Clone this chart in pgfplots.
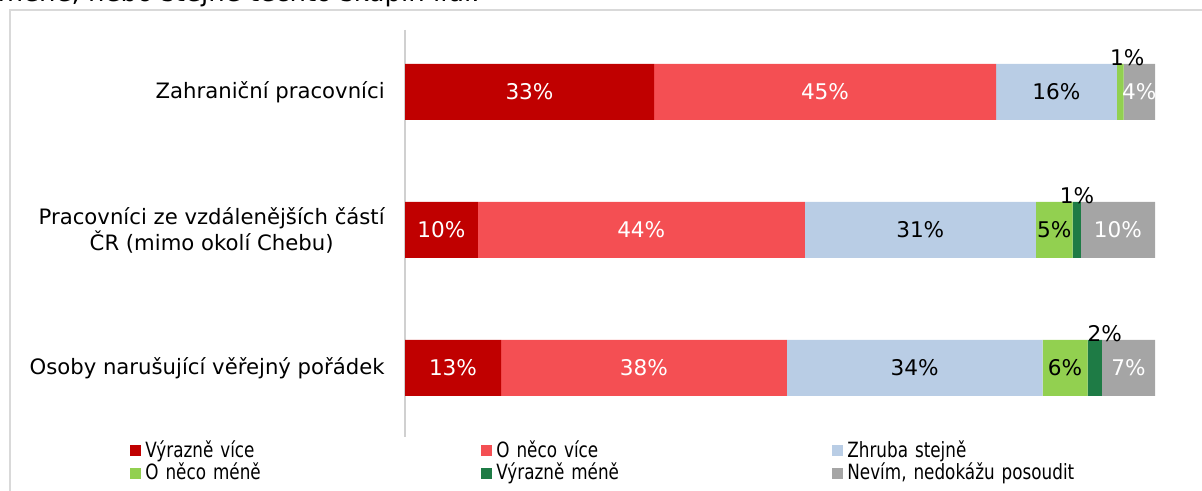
\documentclass[border=0pt]{standalone}
\usepackage{fontspec}
\setmainfont{DejaVu Sans}
\newfontfamily\legfont[FakeStretch=0.8]{DejaVu Sans}
\usepackage{pgfplots}
\pgfplotsset{compat=1.18}
\definecolor{cA}{HTML}{C00000}
\definecolor{cB}{HTML}{F44F53}
\definecolor{cC}{HTML}{B9CDE5}
\definecolor{cD}{HTML}{92D050}
\definecolor{cE}{HTML}{1E7B45}
\definecolor{cF}{HTML}{A5A5A5}
\definecolor{frame}{HTML}{D9D9D9}
\definecolor{axgray}{HTML}{D0D0D0}
\pgfplotsset{mybase/.style={scale only axis, width=375pt, height=203.5pt,
  at={(202.5pt,27pt)}, anchor=south west, xmin=0, xmax=100,
  ymin=-0.449, ymax=2.5, y dir=reverse, clip=false}}
\begin{document}
\begin{tikzpicture}[x=1pt,y=1pt]
\useasboundingbox (0,0) rectangle (601,245.5);
\draw[color=frame, line width=1pt] (4.75,-2) -- (4.75,240.5) -- (610,240.5);
\node[anchor=base east, font=\fontsize{13}{15}\selectfont, inner sep=0pt] at (240,244.6) {méně, nebo stejně těchto skupin lidí.};
\begin{axis}[mybase, xbar stacked, bar width=28pt,
  axis x line=none, axis y line*=left,
  y axis line style={draw=axgray, line width=1pt},
  xtick=\empty, ytick={0,1,2}, ytick style={draw=none},
  yticklabels={Zahraniční pracovníci, {Pracovníci ze vzdálenějších částí\\ČR (mimo okolí Chebu)}, Osoby narušující věřejný pořádek},
  yticklabel style={align=center, font=\fontsize{10.6}{11.6}\selectfont, inner sep=0pt, xshift=-10pt},
  legend columns=3, legend cell align=left,
  legend style={draw=none, fill=none, at={(-0.3667,0.002)}, anchor=north west,
    font=\legfont\fontsize{10.5}{12}\selectfont, inner sep=0pt,
    /tikz/every even column/.append style={text width=166pt}, row sep=-2.6pt},
  legend image code/.code={\fill[#1] (0pt,-2.75pt) rectangle (5.5pt,2.75pt);},
]
\addplot[fill=cA, draw=none] coordinates {(33.2,0) (9.7,1) (12.8,2)};
\addplot[fill=cB, draw=none] coordinates {(45.6,0) (43.6,1) (38.1,2)};
\addplot[fill=cC, draw=none] coordinates {(16.1,0) (30.8,1) (34.1,2)};
\addplot[fill=cD, draw=none] coordinates {(0.9,0) (4.9,1) (6.0,2)};
\addplot[fill=cE, draw=none] coordinates {(0,0) (1.1,1) (1.9,2)};
\addplot[fill=cF, draw=none] coordinates {(4.2,0) (9.9,1) (7.1,2)};
\legend{Výrazně více, O něco více, Zhruba stejně, O něco méně, Výrazně méně, {Nevím, nedokážu posoudit}}
\end{axis}
\begin{axis}[mybase, hide axis, point meta=explicit symbolic,
  nodes near coords={\pgfplotspointmeta},
  every node near coord/.append style={anchor=center, inner sep=0pt, font=\fontsize{10.8}{12}\selectfont}]
\addplot[draw=none, mark=none, every node near coord/.append style={text=white}] coordinates {
 (16.6,0) [33\%] (56.0,0) [45\%] (97.9,0) [4\%]
 (4.85,1) [10\%] (31.5,1) [44\%] (95.05,1) [10\%]
 (6.4,2) [13\%] (31.85,2) [38\%] (96.45,2) [7\%]};
\addplot[draw=none, mark=none, every node near coord/.append style={text=black}] coordinates {
 (86.85,0) [16\%] (68.7,1) [31\%] (86.55,1) [5\%] (67.95,2) [34\%] (88.0,2) [6\%]
 (96.3,-0.25) [1\%] (89.6,0.75) [1\%] (93.3,1.75) [2\%]};
\end{axis}
\end{tikzpicture}
\end{document}
